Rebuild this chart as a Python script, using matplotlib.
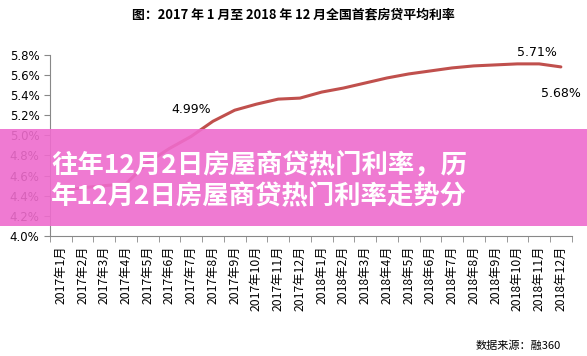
import matplotlib.pyplot as plt
from matplotlib.patches import Rectangle

plt.rcParams['font.family'] = ['Noto Sans CJK SC', 'DejaVu Sans']

# 月份和利率 (%)
months = [f"2017年{m}月" for m in range(1, 13)] + [f"2018年{m}月" for m in range(1, 13)]
rates = [4.45, 4.48, 4.50, 4.52, 4.73, 4.87, 4.99, 5.14, 5.25, 5.31, 5.36, 5.37,
         5.43, 5.47, 5.52, 5.57, 5.61, 5.64, 5.67, 5.69, 5.70, 5.71, 5.71, 5.68]
yticks = [4.0, 4.2, 4.4, 4.6, 4.8, 5.0, 5.2, 5.4, 5.6, 5.8]

title = "图：2017 年 1 月至 2018 年 12 月全国首套房贷平均利率"
banner = "往年12月2日房屋商贷热门利率，历\n年12月2日房屋商贷热门利率走势分"
source = "数据来源：融360"

fig = plt.figure(figsize=(5.87, 3.56), dpi=100)
ax = fig.add_axes([0.085, 0.337, 0.889, 0.509])

x = list(range(len(months)))
ax.plot(x, rates, color='#c0504d', linewidth=2.2, solid_capstyle='round')

ax.set_xlim(-0.5, len(months) - 0.5)
ax.set_ylim(4.0, 5.8)
ax.set_yticks(yticks)
ax.set_yticklabels([f"{v:.1f}%" for v in yticks], fontsize=8.5, family='DejaVu Sans')
ax.set_xticks(x)
ax.set_xticklabels(months, rotation=90, fontsize=8.8)
ax.tick_params(axis='x', length=0, pad=7)
ax.set_xticks([i - 0.5 for i in range(len(months) + 1)], minor=True)
ax.tick_params(axis='x', which='minor', length=4, color='#888888')
ax.tick_params(axis='y', length=4, color='#888888')

for s in ['top', 'right']:
    ax.spines[s].set_visible(False)
ax.spines['left'].set_color('#888888')
ax.spines['bottom'].set_color('#888888')

# 数据标签
ax.annotate(f"{rates[6]:.2f}%", (6, rates[6]), xytext=(0, 19), textcoords='offset points',
            ha='center', va='center', fontsize=9, family='DejaVu Sans')
ax.annotate(f"{rates[21]:.2f}%", (21.9, rates[21]), xytext=(0, 8), textcoords='offset points',
            ha='center', va='center', fontsize=9, family='DejaVu Sans')
ax.annotate(f"{rates[23]:.2f}%", (23, rates[23]), xytext=(0, -19), textcoords='offset points',
            ha='center', va='center', fontsize=9, family='DejaVu Sans')

fig.text(0.5, 0.958, title, ha='center', va='center', fontsize=9.3, fontweight='bold')
fig.text(0.955, 0.028, source, ha='right', va='center', fontsize=8)

# 粉色横幅
rect = Rectangle((0, 0.365), 1, 0.273, transform=fig.transFigure,
                 facecolor='#ee6ccd', alpha=0.9, edgecolor='none', zorder=10)
fig.add_artist(rect)
fig.text(0.087, 0.493, banner, ha='left', va='center', fontsize=19, fontweight='bold',
         color='white', linespacing=1.15, zorder=11)

fig.savefig("out.png", dpi=100)
